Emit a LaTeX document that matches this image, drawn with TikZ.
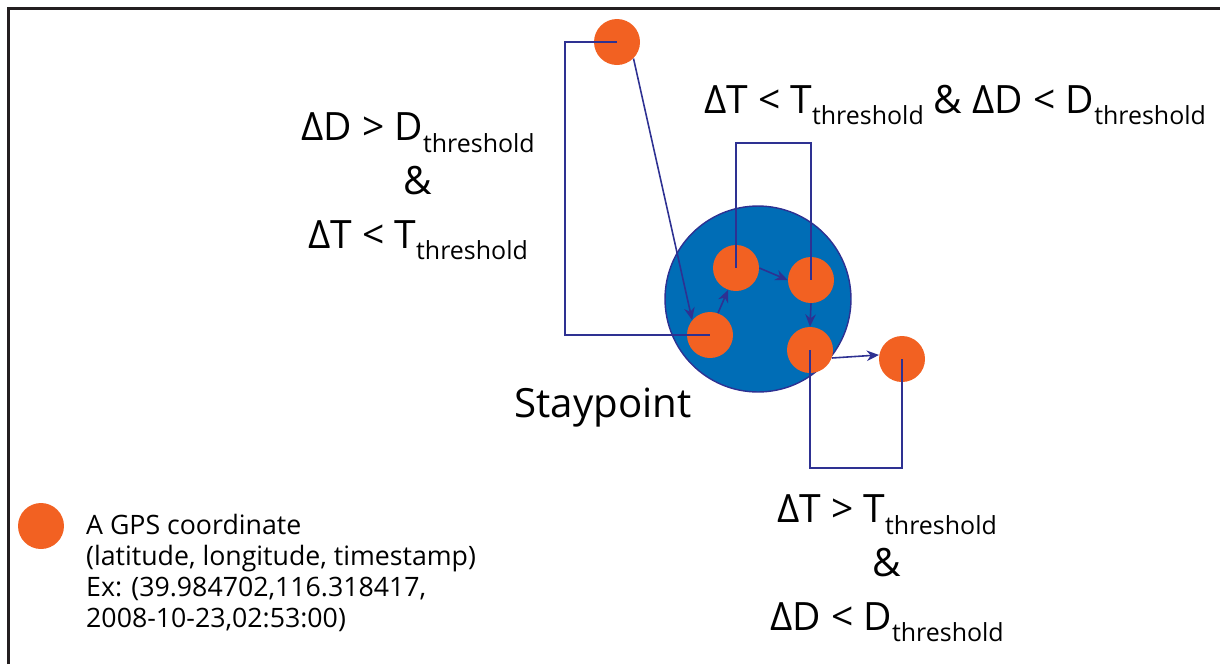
\documentclass[tikz,border=0pt]{standalone}
\usepackage{fontspec}
\setmainfont{Open Sans}
\usepackage{xcolor}
\usetikzlibrary{arrows.meta}

\definecolor{gpsorange}{HTML}{F26122}
\definecolor{spblue}{HTML}{006DB6}
\definecolor{linkblue}{HTML}{2E3192}
\definecolor{frame}{HTML}{231F20}

\newcommand{\thresh}{\raisebox{-6.8pt}{\fontsize{14.2}{14}\selectfont threshold}}

\tikzset{
  gps/.style={circle,fill=gpsorange,minimum size=0.92cm,inner sep=0pt},
  staypt/.style={circle,fill=spblue,draw=linkblue,line width=0.8pt,minimum size=3.72cm,inner sep=0pt},
  link/.style={linkblue,line width=1.1pt},
  flow/.style={linkblue,line width=0.9pt,-{Stealth[length=7pt,width=6pt]}},
  cond/.style={align=center,font=\fontsize{22.2}{30.6}\selectfont,anchor=base}
}

\begin{document}
\begin{tikzpicture}[x=0.02cm,y=-0.02cm]
\useasboundingbox (0,0) rectangle (1220,664);
% frame
\draw[frame,line width=2pt] (8.5,664) -- (8.5,8.5) -- (1220,8.5);
% staypoint region
\node[staypt] (sp) at (758,299) {};
% GPS points
\node[gps] (p1) at (617,42) {};
\node[gps] (p2) at (710,335) {};
\node[gps] (p3) at (736,268) {};
\node[gps] (p4) at (811,280) {};
\node[gps] (p5) at (810,350) {};
\node[gps] (p6) at (902,359) {};
% trajectory
\draw[flow] (p1.-45) -- (p2.140);
\draw[flow] (p2.70) -- (p3.-110);
\draw[flow] (p3.east) -- (p4.west);
\draw[flow] (p4.south) -- (p5.north);
\draw[flow] (p5.-20) -- (p6.170);
% brackets
\draw[link] (p1.center) -- ++(-52,0) |- (p2.center);
\draw[link] (p3.center) -- ++(0,-125) -| (p4.center);
\draw[link] (p5.center) -- ++(0,118) -| (p6.center);
% conditions (base = last line)
\node[cond] (c1) at (418,248) {ΔD > D\thresh\\\&\\ΔT < T\thresh};
\node[cond] (c2) at (955,113) {ΔT < T\thresh{} \& ΔD < D\thresh};
\node[cond] (c3) at (887,630) {ΔT > T\thresh\\\&\\ΔD < D\thresh};
\node[anchor=base,font=\fontsize{22.9}{26}\selectfont] (lbl) at (603,417) {Staypoint};
% legend
\node[gps] (key) at (41,526) {};
\node[anchor=base west,align=left,font=\fontsize{15.2}{17.6}\selectfont] (keytxt) at (80,627)
  {A GPS coordinate\\(latitude, longitude, timestamp)\\Ex: (39.984702,116.318417,\\2008-10-23,02:53:00)};
\end{tikzpicture}
\end{document}
